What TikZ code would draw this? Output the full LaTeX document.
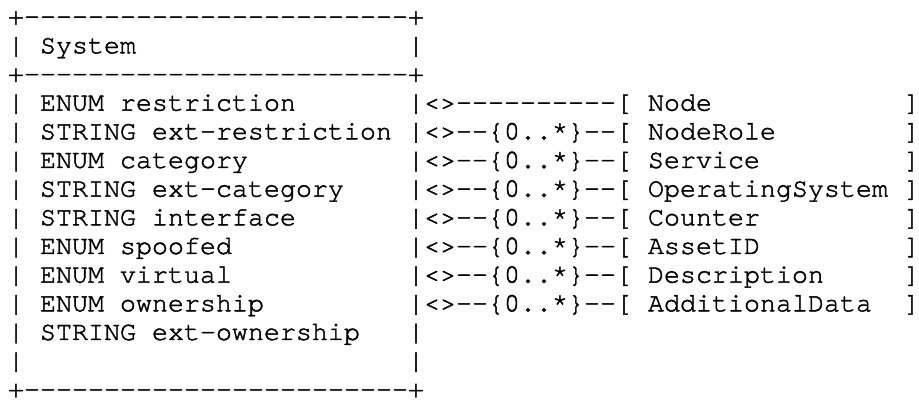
\documentclass[tikz,border=0pt]{standalone}
\usepackage{fontspec}
\setmonofont{TeX Gyre Cursor}[FakeBold=1.6]
\tikzset{
  txt/.style={anchor=base west, inner sep=0pt, outer sep=0pt,
    font=\ttfamily\fontsize{20}{20}\selectfont},
  link/.style={txt},
  cls/.style={txt}
}
\begin{document}
\begin{tikzpicture}[x=12pt,y=-21.5pt]
\useasboundingbox (-0.5,-0.86) rectangle (56.94,13.198);
\node (top) at (0,0) [txt]{+------------------------+};
\node (mid) at (0,2) [txt]{+------------------------+};
\node (bot) at (0,13) [txt]{+------------------------+};
\foreach \r in {1,3,4,...,12}{
  \node (lbar\r) at (0,\r) [txt]{|};
  \node (rbar\r) at (25,\r) [txt]{|};
}
\node (sys) at (2,1) [txt]{System};
\node (restr) at (2,3) [txt]{ENUM restriction};
\node (extrestr) at (2,4) [txt]{STRING ext-restriction};
\node (categ) at (2,5) [txt]{ENUM category};
\node (extcateg) at (2,6) [txt]{STRING ext-category};
\node (iface) at (2,7) [txt]{STRING interface};
\node (spoof) at (2,8) [txt]{ENUM spoofed};
\node (virt) at (2,9) [txt]{ENUM virtual};
\node (owner) at (2,10) [txt]{ENUM ownership};
\node (extowner) at (2,11) [txt]{STRING ext-ownership};
\node (lnode) at (26,3) [link]{<>----------[};
\node (lrole) at (26,4) [link]{<>--\{0..*\}--[};
\node (lserv) at (26,5) [link]{<>--\{0..*\}--[};
\node (los) at (26,6) [link]{<>--\{0..*\}--[};
\node (lcount) at (26,7) [link]{<>--\{0..*\}--[};
\node (lasset) at (26,8) [link]{<>--\{0..*\}--[};
\node (ldesc) at (26,9) [link]{<>--\{0..*\}--[};
\node (ladd) at (26,10) [link]{<>--\{0..*\}--[};
\node (node) at (40,3) [cls]{Node};
\node (role) at (40,4) [cls]{NodeRole};
\node (serv) at (40,5) [cls]{Service};
\node (os) at (40,6) [cls]{OperatingSystem};
\node (count) at (40,7) [cls]{Counter};
\node (asset) at (40,8) [cls]{AssetID};
\node (desc) at (40,9) [cls]{Description};
\node (add) at (40,10) [cls]{AdditionalData};
\foreach \r in {3,...,10}
  \node (rbr\r) at (56,\r) [cls]{]};
\end{tikzpicture}
\end{document}
